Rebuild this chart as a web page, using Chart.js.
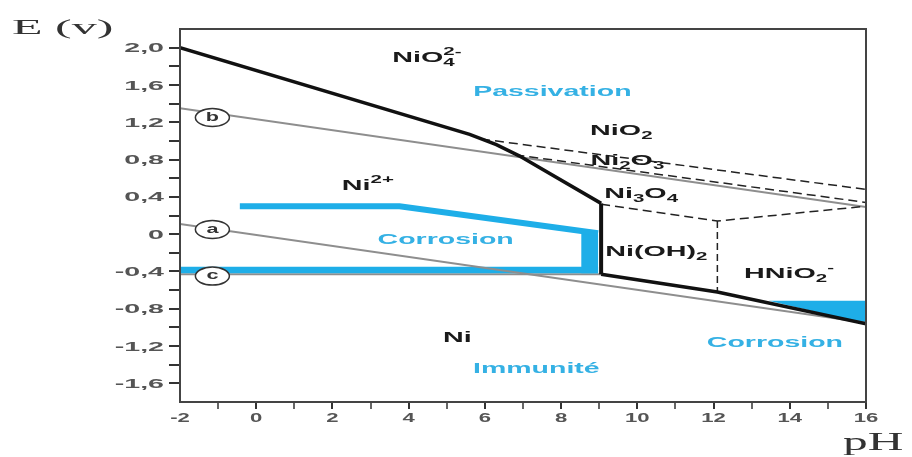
<!DOCTYPE html>
<html>
<head>
<meta charset="utf-8">
<script src="https://cdn.jsdelivr.net/npm/chart.js@4.4.0/dist/chart.umd.min.js"></script>
<style>
  html, body { margin: 0; padding: 0; background: #fff; }
  #wrap { width: 912px; height: 457px; }
</style>
</head>
<body>
<div id="wrap"><canvas id="pourbaix" width="912" height="457"></canvas></div>
<script>
// Tick labels
const xTickValues = [-2, 0, 2, 4, 6, 8, 10, 12, 14, 16];
const xTickLabels = ['-2', '0', '2', '4', '6', '8', '10', '12', '14', '16'];
const yTickValues = [2.0, 1.6, 1.2, 0.8, 0.4, 0, -0.4, -0.8, -1.2, -1.6];
const yTickLabels = ['2,0', '1,6', '1,2', '0,8', '0,4', '0', '-0,4', '-0,8', '-1,2', '-1,6'];

// Thick domain boundaries
const upperPH = [-2, 5.6, 6.3, 6.9, 9.05];
const upperE = [2.0, 1.07, 0.96, 0.84, 0.33];
const wallPH = [9.05, 9.05];
const wallE = [0.33, -0.43];
const lowerPH = [9.05, 12.1, 16];
const lowerE = [-0.43, -0.62, -0.96];

// Water lines a, b and line c
const lineAPH = [-2, 16];
const lineAE = [0.11, -0.95];
const lineBPH = [-2, 16];
const lineBE = [1.35, 0.29];
const lineCPH = [-2, 9.05];
const lineCE = [-0.43, -0.43];

// Dashed oxide boundaries
const dashNiO2PH = [5.9, 16];
const dashNiO2E = [1.02, 0.48];
const dashNi2O3PH = [6.8, 16];
const dashNi2O3E = [0.85, 0.34];
const dashNi3O4PH = [9.05, 12.1, 16];
const dashNi3O4E = [0.32, 0.14, 0.30];
const dashHNiO2PH = [12.1, 12.1];
const dashHNiO2E = [0.14, -0.62];

// Corrosion zones (blue)
const corrTopPH = [-0.43, 3.76, 8.97];
const corrTopE = [0.30, 0.30, 0.01];
const corrBasePH = [-2, 8.97];
const corrBaseE = [-0.385, -0.385];
const corrSidePH = [8.53, 8.97, 8.97, 8.53];
const corrSideE = [0.04, 0.0, -0.42, -0.42];
const corrAlkPH = [13.45, 16, 16];
const corrAlkE = [-0.715, -0.715, -0.96];

const BLACK = '#111';
const GRAY = '#8e8e8e';
const BLUE = '#1eaee8';
const BLUE_TXT = '#35b1e4';
const FONT = '"Liberation Sans", Arial, sans-serif';
const SERIF = '"Liberation Serif", "DejaVu Serif", serif';

// species: [base, sub, sup, stacked]
const species = [
    { parts: [['NiO', '4', '2-', true]], ph: 4.48, e: 1.89 },
    { parts: [['NiO', '2', '']], ph: 9.58, e: 1.10 },
    { parts: [['Ni', '2', ''], ['O', '3', '']], ph: 9.74, e: 0.78 },
    { parts: [['Ni', '3', ''], ['O', '4', '']], ph: 10.10, e: 0.43 },
    { parts: [['Ni', '', '2+']], ph: 2.93, e: 0.51 },
    { parts: [['Ni(OH)', '2', '']], ph: 10.50, e: -0.19 },
    { parts: [['HNiO', '2', '-']], ph: 13.98, e: -0.43 },
    { parts: [['Ni', '', '']], ph: 5.28, e: -1.12 }
];
const zones = [
    { text: 'Passivation', ph: 7.77, e: 1.525 },
    { text: 'Corrosion', ph: 4.97, e: -0.064 },
    { text: 'Immunité', ph: 7.35, e: -1.44 },
    { text: 'Corrosion', ph: 13.61, e: -1.163 }
];
const markers = [['b', -1.15, 1.25], ['a', -1.15, 0.05], ['c', -1.15, -0.45]];

function pts(xs, ys) {
    return xs.map((x, i) => ({ x: x, y: ys[i] }));
}

function line(xs, ys, color, width, extra) {
    return Object.assign({
        data: pts(xs, ys),
        showLine: true,
        borderColor: color,
        backgroundColor: color,
        borderWidth: width,
        pointRadius: 0,
        fill: false,
        tension: 0,
        borderCapStyle: 'butt',
        borderJoinStyle: 'miter'
    }, extra || {});
}

// draw text squeezed wide like the scanned original
function wideText(ctx, s, x, y, font, color, sx, align, baseline) {
    ctx.save();
    ctx.font = font;
    const w = ctx.measureText(s).width * sx;
    let left = x;
    if (align === 'center') left = x - w / 2;
    else if (align === 'right') left = x - w;
    ctx.translate(left, y);
    ctx.scale(sx, 1);
    ctx.fillStyle = color;
    ctx.textAlign = 'left';
    ctx.textBaseline = baseline || 'middle';
    ctx.fillText(s, 0, 0);
    ctx.restore();
    return w;
}

function measure(ctx, s, font, sx) {
    ctx.save();
    ctx.font = font;
    const w = ctx.measureText(s).width * sx;
    ctx.restore();
    return w;
}

function drawChem(ctx, parts, cx, cy) {
    const big = 'bold 14px ' + FONT;
    const small = 'bold 10px ' + FONT;
    const sx = 2.05;
    let total = 0;
    parts.forEach(p => {
        const wb = measure(ctx, p[0], big, sx);
        const ws = p[1] ? measure(ctx, p[1], small, sx) : 0;
        const wp = p[2] ? measure(ctx, p[2], small, sx) : 0;
        total += wb + (p[3] ? Math.max(ws, wp) : ws + wp);
    });
    let x = cx - total / 2;
    parts.forEach(p => {
        x += wideText(ctx, p[0], x, cy, big, '#1a1a1a', sx, 'left');
        let ws = 0, wp = 0;
        if (p[1]) ws = wideText(ctx, p[1], x, cy + 5, small, '#1a1a1a', sx, 'left');
        if (p[2]) wp = wideText(ctx, p[2], p[3] ? x : x + ws, cy - 6, small, '#1a1a1a', sx, 'left');
        x += p[3] ? Math.max(ws, wp) : ws + wp;
    });
}

const decorPlugin = {
    id: 'decor',
    afterDraw(chart) {
        const ctx = chart.ctx;
        const xs = chart.scales.x;
        const ys = chart.scales.y;
        const a = chart.chartArea;

        // frame
        ctx.save();
        ctx.strokeStyle = '#444';
        ctx.lineWidth = 2;
        ctx.strokeRect(a.left, a.top, a.right - a.left, a.bottom - a.top);
        ctx.restore();

        // tick labels
        const tickFont = 'bold 13px ' + FONT;
        yTickValues.forEach((v, i) => {
            wideText(ctx, yTickLabels[i], 164, ys.getPixelForValue(v) + 1, tickFont, '#555', 2.2, 'right');
        });
        xTickValues.forEach((v, i) => {
            wideText(ctx, xTickLabels[i], xs.getPixelForValue(v), 418, tickFont, '#555', 1.7, 'center');
        });

        // axis titles
        wideText(ctx, 'E (v)', 12, 34, '20px ' + SERIF, '#333', 2.5, 'left', 'alphabetic');
        wideText(ctx, 'pH', 843, 450, '26px ' + SERIF, '#333', 1.9, 'left', 'alphabetic');

        // species names
        species.forEach(s => {
            drawChem(ctx, s.parts, xs.getPixelForValue(s.ph), ys.getPixelForValue(s.e));
        });

        // domain names
        zones.forEach(z => {
            wideText(ctx, z.text, xs.getPixelForValue(z.ph), ys.getPixelForValue(z.e),
                'bold 15px ' + FONT, BLUE_TXT, 1.9, 'center');
        });

        // line markers a, b, c
        markers.forEach(m => {
            const px = xs.getPixelForValue(m[1]);
            const py = ys.getPixelForValue(m[2]);
            ctx.save();
            ctx.beginPath();
            ctx.ellipse(px, py, 17, 9, 0, 0, Math.PI * 2);
            ctx.fillStyle = '#fff';
            ctx.fill();
            ctx.strokeStyle = '#333';
            ctx.lineWidth = 1.5;
            ctx.stroke();
            ctx.restore();
            wideText(ctx, m[0], px, py, 'bold 12px ' + FONT, '#333', 1.8, 'center');
        });
    }
};

function endTick(v, ends) {
    return ends.some(e => Math.abs(v - e) < 1e-6);
}

new Chart(document.getElementById('pourbaix').getContext('2d'), {
    type: 'scatter',
    data: {
        datasets: [
            line(upperPH, upperE, BLACK, 3.5),
            line(wallPH, wallE, BLACK, 4),
            line(lowerPH, lowerE, BLACK, 3.5),
            line(dashNiO2PH, dashNiO2E, '#222', 1.5, { borderDash: [9, 5] }),
            line(dashNi2O3PH, dashNi2O3E, '#222', 1.5, { borderDash: [9, 5] }),
            line(dashNi3O4PH, dashNi3O4E, '#222', 1.5, { borderDash: [9, 5] }),
            line(dashHNiO2PH, dashHNiO2E, '#222', 1.5, { borderDash: [7, 4] }),
            line(lineAPH, lineAE, GRAY, 2),
            line(lineBPH, lineBE, GRAY, 2),
            line(corrTopPH, corrTopE, BLUE, 6),
            line(corrBasePH, corrBaseE, BLUE, 6.5),
            line(corrSidePH, corrSideE, BLUE, 0, { fill: 'shape' }),
            line(corrAlkPH, corrAlkE, BLUE, 0, { fill: 'shape' }),
            line(lineCPH, lineCE, GRAY, 2)
        ]
    },
    options: {
        responsive: false,
        animation: false,
        devicePixelRatio: 1,
        layout: { padding: { top: 29, right: 46, left: 0, bottom: 0 } },
        plugins: {
            legend: { display: false },
            tooltip: { enabled: false }
        },
        scales: {
            x: {
                type: 'linear',
                min: -2,
                max: 16,
                afterFit: s => { s.height = 55; },
                ticks: { stepSize: 1, display: false },
                grid: {
                    drawOnChartArea: false,
                    drawTicks: true,
                    tickLength: 7,
                    lineWidth: 2,
                    color: ctx => (ctx.tick && endTick(ctx.tick.value, [-2])) ? 'rgba(0,0,0,0)' : '#333',
                    tickWidth: ctx => (ctx.tick && Math.round(ctx.tick.value) % 2 !== 0) ? 1.5 : 2
                },
                border: { display: true, color: '#333', width: 2 }
            },
            y: {
                type: 'linear',
                min: -1.8,
                max: 2.2,
                afterFit: s => { s.width = 180; },
                ticks: { stepSize: 0.2, display: false },
                grid: {
                    drawOnChartArea: false,
                    drawTicks: true,
                    tickLength: 11,
                    lineWidth: 2,
                    color: ctx => (ctx.tick && endTick(ctx.tick.value, [2.2, -1.8])) ? 'rgba(0,0,0,0)' : '#333'
                },
                border: { display: true, color: '#333', width: 2 }
            }
        }
    },
    plugins: [decorPlugin]
});
</script>
</body>
</html>
